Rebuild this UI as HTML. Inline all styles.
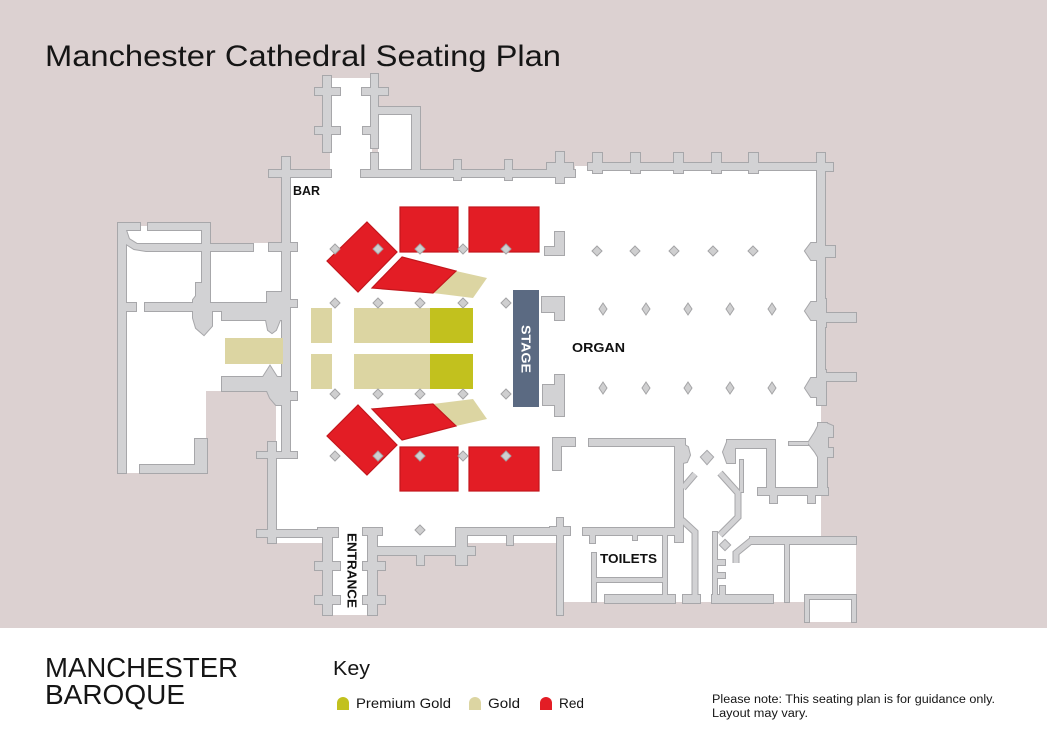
<!DOCTYPE html>
<html><head><meta charset="utf-8"><style>
html,body{margin:0;padding:0;width:1047px;height:740px;overflow:hidden;background:#fff}
svg{display:block}
</style></head><body>
<svg width="1047" height="740" viewBox="0 0 1047 740" xmlns="http://www.w3.org/2000/svg" font-family="Liberation Sans, sans-serif">
<defs>
<g id="w">
<!-- top-left passage -->
<rect x="323" y="76" width="8" height="76"/>
<rect x="315" y="88" width="25" height="7"/>
<rect x="315" y="127" width="25" height="7"/>
<rect x="371" y="74" width="7" height="74"/>
<rect x="362" y="88" width="26" height="7"/>
<rect x="363" y="127" width="15" height="7"/>
<rect x="371" y="153" width="7" height="20"/>
<rect x="378" y="107" width="41" height="7"/>
<rect x="412" y="107" width="8" height="70"/>
<rect x="361" y="170" width="214" height="7"/>
<rect x="269" y="170" width="62" height="7"/>
<rect x="282" y="157" width="8" height="298"/>
<rect x="269" y="243" width="28" height="8"/>
<rect x="269" y="300" width="28" height="7"/>
<rect x="454" y="160" width="7" height="20"/>
<rect x="505" y="160" width="7" height="20"/>
<rect x="556" y="152" width="8" height="31"/>
<rect x="547" y="163" width="26" height="12"/>
<!-- nave top wall -->
<rect x="588" y="163" width="237" height="7"/>
<rect x="593" y="153" width="9" height="20"/>
<rect x="631" y="153" width="9" height="20"/>
<rect x="674" y="153" width="9" height="20"/>
<rect x="712" y="153" width="9" height="20"/>
<rect x="749" y="153" width="9" height="20"/>
<rect x="817" y="153" width="8" height="252"/>
<rect x="825" y="163" width="8" height="8"/>
<polygon points="805,251 811,243 817,243 817,240 825,240 825,246 835,246 835,257 825,257 825,263 817,263 817,260 811,260"/>
<polygon points="805,311 811,302 817,302 817,299 826,299 826,313 856,313 856,322 826,322 826,327 817,327 817,320 811,320"/>
<polygon points="805,388 811,378 817,378 817,370 826,370 826,373 856,373 856,381 826,381 826,405 817,405 817,397 811,397"/>
<!-- pieces near stage -->
<rect x="555" y="232" width="9" height="23"/>
<rect x="545" y="247" width="19" height="8"/>
<rect x="555" y="297" width="9" height="23"/>
<rect x="542" y="297" width="13" height="15"/>
<rect x="555" y="375" width="9" height="41"/>
<rect x="543" y="385" width="12" height="20"/>
<rect x="553" y="438" width="8" height="32"/>
<rect x="553" y="438" width="22" height="8"/>
<!-- lower right -->
<rect x="589" y="439" width="96" height="7"/>
<rect x="675" y="439" width="8" height="103"/>
<polygon points="683,444 688,447 690,455 687,462 683,463"/>
<polygon points="707,451 713,457 707,464 701,457"/>
<rect x="727" y="440" width="46" height="8"/>
<polygon points="723,452 727,442 735,441 735,463 727,463"/>
<rect x="767" y="440" width="8" height="55"/>
<rect x="758" y="488" width="70" height="7"/>
<rect x="770" y="495" width="7" height="8"/>
<rect x="808" y="495" width="7" height="8"/>
<rect x="818" y="423" width="9" height="72"/>
<polygon points="808,443 815,432 818,426 826,423 833,426 833,437 828,437 828,448 833,448 833,457 818,457 815,452"/>
<rect x="789" y="442" width="19" height="3"/>
<rect x="740" y="460" width="3" height="32"/>
<polygon points="725,540 730,545 725,550 720,545"/>
<rect x="583" y="528" width="100" height="7"/>
<rect x="590" y="535" width="5" height="8"/>
<rect x="633" y="528" width="4" height="12"/>
<rect x="663" y="535" width="4" height="62"/>
<rect x="592" y="553" width="4" height="49"/>
<rect x="595" y="578" width="68" height="4"/>
<rect x="605" y="595" width="70" height="8"/>
<rect x="683" y="595" width="17" height="8"/>
<rect x="713" y="532" width="4" height="71"/>
<rect x="717" y="560" width="8" height="5"/>
<rect x="717" y="573" width="8" height="5"/>
<rect x="712" y="595" width="61" height="8"/>
<rect x="720" y="586" width="5" height="9"/>
<rect x="750" y="537" width="106" height="7"/>
<rect x="785" y="537" width="4" height="65"/>
<rect x="805" y="595" width="51" height="4"/>
<rect x="805" y="595" width="4" height="27"/>
<rect x="852" y="595" width="4" height="27"/>
<rect x="557" y="518" width="6" height="97"/>
<rect x="550" y="527" width="20" height="8"/>
<!-- bottom walls / entrance -->
<rect x="368" y="528" width="9" height="87"/>
<rect x="363" y="562" width="22" height="8"/>
<rect x="363" y="596" width="22" height="8"/>
<rect x="363" y="528" width="19" height="7"/>
<rect x="377" y="547" width="98" height="8"/>
<rect x="417" y="555" width="7" height="10"/>
<rect x="456" y="528" width="11" height="37"/>
<rect x="456" y="528" width="114" height="7"/>
<rect x="507" y="535" width="6" height="10"/>
<rect x="323" y="528" width="9" height="87"/>
<rect x="315" y="562" width="25" height="8"/>
<rect x="315" y="596" width="25" height="8"/>
<rect x="318" y="528" width="20" height="7"/>
<rect x="257" y="530" width="81" height="7"/>
<rect x="268" y="442" width="8" height="101"/>
<rect x="257" y="452" width="40" height="6"/>
<!-- left annex -->
<rect x="118" y="223" width="8" height="250"/>
<rect x="118" y="223" width="22" height="7"/>
<rect x="148" y="223" width="62" height="7"/>
<rect x="202" y="223" width="8" height="80"/>
<polygon points="126,230 129,239 137,244 253,244 253,251 146,251 134,249 126,244"/>
<rect x="126" y="303" width="10" height="8"/>
<rect x="145" y="303" width="145" height="8"/>
<rect x="222" y="303" width="68" height="17"/>
<polygon points="196,283 203,283 203,303 212,303 212,326 204,335 196,328 193,318 193,300 196,296"/>
<polygon points="267,292 282,292 282,303 290,303 290,320 280,320 276,330 272,333 268,330 266,320 267,303"/>
<polygon points="222,377 263,377 270,366 277,377 290,377 290,391 222,391"/>
<polygon points="267,391 290,391 290,405 276,405 270,398"/>
<rect x="290" y="392" width="7" height="8"/>
<rect x="195" y="439" width="12" height="34"/>
<rect x="140" y="465" width="67" height="8"/>
</g>
<g id="ln" fill="none" stroke-linejoin="miter">
<polyline points="683,488 695,474"/>
<polyline points="720,473 738,493 738,517 720,535"/>
<polyline points="682,520 695,532 695,600"/>
<polyline points="752,540 736,553 736,563"/>
</g>
</defs>

<rect x="0" y="0" width="1047" height="628" fill="#dcd1d1"/>
<rect x="0" y="628" width="1047" height="112" fill="#fff"/>
<text x="45" y="66" font-size="30" fill="#151515" textLength="516" lengthAdjust="spacingAndGlyphs">Manchester Cathedral Seating Plan</text>

<!-- white floor -->
<g fill="#fff">
<rect x="330" y="78" width="42" height="100"/>
<rect x="378" y="110" width="38" height="68"/>
<polygon points="285,173 575,173 575,166 821,166 821,537 856,537 856,602 560,602 560,543 467,543 467,555 377,555 377,615 323,615 323,543 276,543 276,391 206,391 206,473 122,473 122,226 206,226 206,243 285,243"/>
<rect x="805" y="595" width="51" height="27"/>
</g>

<!-- walls -->
<use href="#w" fill="#a7a7aa" stroke="#a7a7aa" stroke-width="2"/>
<use href="#ln" stroke="#a7a7aa" stroke-width="7"/>
<use href="#w" fill="#d2d2d4" stroke="none"/>
<use href="#ln" stroke="#d2d2d4" stroke-width="5"/>

<!-- seating -->
<g fill="#dcd5a2">
<rect x="225" y="338" width="58" height="26"/>
<rect x="311" y="308" width="21" height="35"/>
<rect x="311" y="354" width="21" height="35"/>
<rect x="354" y="308" width="76" height="35"/>
<rect x="354" y="354" width="76" height="35"/>
<polygon points="456,271 487,278 473,298 433,293"/>
<polygon points="456,426 487,419 473,399 433,404"/>
</g>
<g fill="#c2c11e">
<rect x="430" y="308" width="43" height="35"/>
<rect x="430" y="354" width="43" height="35"/>
</g>
<g fill="#e31d25" stroke="#c3161c" stroke-width="1.2">
<rect x="400" y="207" width="58" height="45"/>
<rect x="469" y="207" width="70" height="45"/>
<rect x="400" y="447" width="58" height="44"/>
<rect x="469" y="447" width="70" height="44"/>
<polygon points="367,222 397,252 358,292 327,261"/>
<polygon points="402,257 456,271 433,293 372,288"/>
<polygon points="367,475 397,445 358,405 327,436"/>
<polygon points="402,440 456,426 433,404 372,409"/>
</g>
<rect x="513" y="290" width="26" height="117" fill="#5b6a82"/>
<text transform="translate(521.5,349) rotate(90)" text-anchor="middle" font-size="13" font-weight="bold" fill="#fff" textLength="48" lengthAdjust="spacingAndGlyphs">STAGE</text>

<!-- pillars -->
<g fill="#cfcfd0" stroke="#a4a4a6" stroke-width="1">
<polygon points="335,244 340,249 335,254 330,249"/>
<polygon points="378,244 383,249 378,254 373,249"/>
<polygon points="420,244 425,249 420,254 415,249"/>
<polygon points="463,244 468,249 463,254 458,249"/>
<polygon points="506,244 511,249 506,254 501,249"/>
<polygon points="335,298 340,303 335,308 330,303"/>
<polygon points="378,298 383,303 378,308 373,303"/>
<polygon points="420,298 425,303 420,308 415,303"/>
<polygon points="463,298 468,303 463,308 458,303"/>
<polygon points="506,298 511,303 506,308 501,303"/>
<polygon points="335,389 340,394 335,399 330,394"/>
<polygon points="378,389 383,394 378,399 373,394"/>
<polygon points="420,389 425,394 420,399 415,394"/>
<polygon points="463,389 468,394 463,399 458,394"/>
<polygon points="506,389 511,394 506,399 501,394"/>
<polygon points="335,451 340,456 335,461 330,456"/>
<polygon points="378,451 383,456 378,461 373,456"/>
<polygon points="420,451 425,456 420,461 415,456"/>
<polygon points="463,451 468,456 463,461 458,456"/>
<polygon points="506,451 511,456 506,461 501,456"/>
<polygon points="420,525 425,530 420,535 415,530"/>
<polygon points="597,246 602,251 597,256 592,251"/>
<polygon points="635,246 640,251 635,256 630,251"/>
<polygon points="674,246 679,251 674,256 669,251"/>
<polygon points="713,246 718,251 713,256 708,251"/>
<polygon points="753,246 758,251 753,256 748,251"/>
<polygon points="603,303 607,309 603,315 599,309"/>
<polygon points="646,303 650,309 646,315 642,309"/>
<polygon points="688,303 692,309 688,315 684,309"/>
<polygon points="730,303 734,309 730,315 726,309"/>
<polygon points="772,303 776,309 772,315 768,309"/>
<polygon points="603,382 607,388 603,394 599,388"/>
<polygon points="646,382 650,388 646,394 642,388"/>
<polygon points="688,382 692,388 688,394 684,388"/>
<polygon points="730,382 734,388 730,394 726,388"/>
<polygon points="772,382 776,388 772,394 768,388"/>
</g>

<!-- labels -->
<g font-weight="bold" fill="#111">
<text x="293" y="195" font-size="12.5" textLength="27" lengthAdjust="spacingAndGlyphs">BAR</text>
<text x="572" y="352" font-size="13" textLength="53" lengthAdjust="spacingAndGlyphs">ORGAN</text>
<text x="600" y="563" font-size="12.5" textLength="57" lengthAdjust="spacingAndGlyphs">TOILETS</text>
<text transform="translate(347.5,570.5) rotate(90)" text-anchor="middle" font-size="12.5" textLength="75" lengthAdjust="spacingAndGlyphs">ENTRANCE</text>
</g>

<!-- footer -->
<g fill="#151515">
<text x="45" y="677" font-size="28" textLength="193" lengthAdjust="spacingAndGlyphs">MANCHESTER</text>
<text x="45" y="704" font-size="28" textLength="140" lengthAdjust="spacingAndGlyphs">BAROQUE</text>
<text x="333" y="675" font-size="20" textLength="37" lengthAdjust="spacingAndGlyphs">Key</text>
<text x="356" y="708" font-size="14" textLength="95" lengthAdjust="spacingAndGlyphs">Premium Gold</text>
<text x="488" y="708" font-size="14" textLength="32" lengthAdjust="spacingAndGlyphs">Gold</text>
<text x="559" y="708" font-size="14" textLength="25" lengthAdjust="spacingAndGlyphs">Red</text>
<text x="712" y="703" font-size="11.5" textLength="283" lengthAdjust="spacingAndGlyphs">Please note: This seating plan is for guidance only.</text>
<text x="712" y="717" font-size="11.5" textLength="96" lengthAdjust="spacingAndGlyphs">Layout may vary.</text>
</g>
<path d="M337,710 V703 a6,6 0 0 1 12,0 V710 Z" fill="#c2c11e"/>
<path d="M469,710 V703 a6,6 0 0 1 12,0 V710 Z" fill="#dcd5a2"/>
<path d="M540,710 V703 a6,6 0 0 1 12,0 V710 Z" fill="#e31d25"/>
</svg>
</body></html>
